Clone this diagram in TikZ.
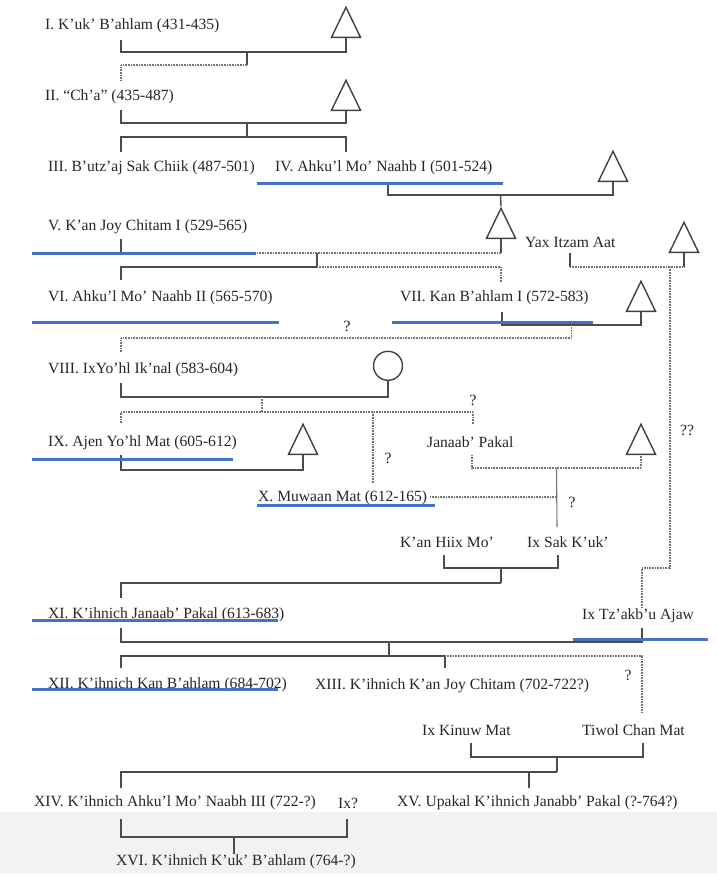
\documentclass[tikz,border=0pt]{standalone}
\usepackage{fontspec}
\setmainfont{Liberation Serif}
\usetikzlibrary{shapes.geometric,positioning}

\definecolor{hiblue}{RGB}{68,114,196}

\tikzset{
  person/.style={anchor=west,inner sep=0pt,text=black!85,
    font=\fontsize{15.6}{18}\selectfont},
  query/.style={inner sep=0pt,text=black!85,font=\fontsize{15.6}{18}\selectfont},
  male/.style={draw=black!75,line width=1.4pt,isosceles triangle,
    shape border rotate=90,isosceles triangle stretches,
    minimum width=29pt,minimum height=30pt,inner sep=0pt,anchor=south},
  female/.style={draw=black!75,line width=1.4pt,circle,minimum size=29pt,
    inner sep=0pt,anchor=south},
  kin/.style={draw=black!70,line width=1.4pt},
  maybe/.style={draw=black!55,line width=1.3pt,dash pattern=on 0.8pt off 0.8pt},
  hilite/.style={draw=hiblue,line width=3pt},
}

\begin{document}
\begin{tikzpicture}[x=1pt,y=-1pt]
\useasboundingbox (0,0) rectangle (717,881);
\fill[black!5] (0,812) rectangle (717,874);

% rulers and their kin
\node[person] (r1) at (45,26) {I. K'uk' B'ahlam (431-435)};
\node[person] (r2) at (45,97) {II. “Ch'a” (435-487)};
\node[person] (r3) at (48,168) {III. B'utz'aj Sak Chiik (487-501)};
\node[person] (r4) at (275,168) {IV. Ahku'l Mo' Naahb I (501-524)};
\node[person] (r5) at (48,227) {V. K'an Joy Chitam I (529-565)};
\node[person] (yax) at (525,242) {Yax Itzam Aat};
\node[person] (r6) at (48,298) {VI. Ahku'l Mo' Naahb II (565-570)};
\node[person] (r7) at (400,298) {VII. Kan B'ahlam I (572-583)};
\node[person] (r8) at (48,370) {VIII. IxYo'hl Ik'nal (583-604)};
\node[person] (r9) at (48,443) {IX. Ajen Yo'hl Mat (605-612)};
\node[person] (janaab) at (427,442) {Janaab' Pakal};
\node[person] (r10) at (258,498) {X. Muwaan Mat (612-165)};
\node[person] (kanhiix) at (400,542) {K'an Hiix Mo'};
\node[person] (ixsak) at (527,542) {Ix Sak K'uk'};
\node[person] (r11) at (48,615) {XI. K'ihnich Janaab' Pakal (613-683)};
\node[person] (ixtzak) at (582,616) {Ix Tz'akb'u Ajaw};
\node[person] (r12) at (48,685) {XII. K'ihnich Kan B'ahlam (684-702)};
\node[person] (r13) at (315,686) {XIII. K'ihnich K'an Joy Chitam (702-722?)};
\node[person] (kinuw) at (422,730) {Ix Kinuw Mat};
\node[person] (tiwol) at (582,730) {Tiwol Chan Mat};
\node[person] (r14) at (34,803) {XIV. K'ihnich Ahku'l Mo' Naabh III (722-?)};
\node[person] (ixq) at (338,803) {Ix?};
\node[person] (r15) at (397,803) {XV. Upakal K'ihnich Janabb' Pakal (?-764?)};
\node[person] (r16) at (116,862) {XVI. K'ihnich K'uk' B'ahlam (764-?)};

% unnamed men and women
\node[male] (m1) at (346,38) {};
\node[male] (m2) at (346,111) {};
\node[male] (m3) at (613,182) {};
\node[male] (m4) at (501,239) {};
\node[male] (m5) at (684,253) {};
\node[male] (m6) at (641,312) {};
\node[male] (m7) at (303,455) {};
\node[male] (m8) at (641,455) {};
\node[female] (f1) at (388,381) {};

% uncertain links
\node[query] (q1) at (347,326) {?};
\node[query] (q2) at (473,400) {?};
\node[query] (q3) at (388,458) {?};
\node[query] (q4) at (572,502) {?};
\node[query] (q5) at (687,430) {??};
\node[query] (q6) at (628,675) {?};

% stem ends
\coordinate (r1b) at (121,40);
\coordinate (r2t) at (121,80);
\coordinate (r2b) at (121,110);
\coordinate (r3t) at (121,152);
\coordinate (r4t) at (346,152);
\coordinate (r4b) at (388,182);
\coordinate (r5b) at (121,239);
\coordinate (r6t) at (121,280);
\coordinate (r7t) at (501,282);
\coordinate (r7b) at (502,312);
\coordinate (yaxb) at (570,253);
\coordinate (r8t) at (121,352);
\coordinate (r8b) at (121,383);
\coordinate (r9t) at (121,423);
\coordinate (r9b) at (121,455);
\coordinate (janaabt) at (473,425);
\coordinate (janaabb) at (472,455);
\coordinate (r10t) at (373,483);
\coordinate (r10e) at (430,497);
\coordinate (kanhiixb) at (444,555);
\coordinate (ixsakt) at (557,527);
\coordinate (ixsakb) at (558,555);
\coordinate (r11t) at (121,598);
\coordinate (r11b) at (121,628);
\coordinate (ixtzakt) at (642,608);
\coordinate (ixtzakb) at (642,628);
\coordinate (r12t) at (121,668);
\coordinate (r13t) at (445,668);
\coordinate (kinuwb) at (471,743);
\coordinate (tiwolt) at (642,713);
\coordinate (tiwolb) at (643,743);
\coordinate (r14t) at (121,788);
\coordinate (r15t) at (529,788);
\coordinate (r14b) at (121,819);
\coordinate (ixqb) at (347,819);
\coordinate (r16t) at (234,854);

% I -- II
\draw[kin] (r1b) -- ++(0,12) -| coordinate[pos=.28] (u1) (m1.south);
\draw[kin] (u1) -- ++(0,13) coordinate (d1);
\draw[maybe] (d1) -| (r2t);

% II -- III, IV
\draw[kin] (r2b) -- ++(0,13) -| coordinate[pos=.28] (u2) (m2.south);
\draw[kin] (u2) -- ++(0,14) coordinate (d2);
\draw[kin] (r3t) |- (d2) -| (r4t);

% IV -- V, VI, VII
\draw[kin] (r4b) -- ++(0,13) -| coordinate[pos=.25] (u3) (m3.south);
\draw[kin] (u3) -- (m4.apex);
\draw[kin] (m4.south) -- ++(0,14) coordinate (v4);
\draw[kin] (r5b) -- ++(0,14) coordinate (v5);
\draw[maybe] (v5) -- coordinate[pos=.516] (u4) (v4);
\draw[kin] (u4) -- ++(0,14) coordinate (d4);
\draw[kin] (r6t) |- (d4);
\draw[maybe] (d4) -| (r7t);

% Yax Itzam Aat -- Ix Tz'akb'u Ajaw
\draw[kin] (yaxb) -- ++(0,14) coordinate (v6);
\draw[kin] (m5.south) -- ++(0,14) coordinate (v7);
\draw[maybe] (v6) -- coordinate[pos=.877] (u5) (v7);
\draw[maybe] (u5) -- ++(0,301) -| (ixtzakt);

% VII -- VIII
\draw[kin] (r7b) -- ++(0,13) -| coordinate[pos=.25] (u6) (m6.south);
\draw[maybe] (u6) -- ++(0,13) -| (r8t);

% VIII -- IX, X, Janaab' Pakal
\draw[kin] (r8b) -- ++(0,14) -| coordinate[pos=.264] (u7) (f1.south);
\draw[maybe] (u7) -- ++(0,15) coordinate (d7);
\draw[maybe] (r9t) |- (d7) -| (janaabt);
\draw[maybe] (d7 -| r10t) -- (r10t);
\draw[kin] (r9b) -- ++(0,15) -| (m7.south);

% Janaab' Pakal -- Ix Sak K'uk'
\draw[maybe] (janaabb) -- ++(0,13) -| coordinate[pos=.25] (u8) (m8.south);
\draw[draw=black!55,line width=1.1pt] (u8) -- (ixsakt);
\draw[maybe] (r10e) -- (r10e -| u8);

% K'an Hiix Mo' -- XI
\draw[kin] (kanhiixb) -- ++(0,13) -| coordinate[pos=.25] (u9) (ixsakb);
\draw[kin] (u9) -- ++(0,15) coordinate (d9);
\draw[kin] (d9) -| (r11t);

% XI -- XII, XIII, Tiwol Chan Mat
\draw[kin] (r11b) -- ++(0,14) -| coordinate[pos=.257] (u10) (ixtzakb);
\draw[kin] (u10) -- ++(0,14) coordinate (d10);
\draw[kin] (r12t) |- (d10) -| (r13t);
\draw[maybe] (r13t |- d10) -| (tiwolt);

% Tiwol Chan Mat -- XIV, XV
\draw[kin] (kinuwb) -- ++(0,14) -| coordinate[pos=.25] (u11) (tiwolb);
\draw[kin] (u11) -- ++(0,15) coordinate (d11);
\draw[kin] (r14t) |- (d11);
\draw[kin] (r15t) -- (r15t |- d11);

% XIV -- XVI
\draw[kin] (r14b) -- ++(0,18) -| coordinate[pos=.25] (u12) (ixqb);
\draw[kin] (u12) -- (r16t);

% blue strokes
\draw[hilite] (257,183) -- (503,183);
\draw[hilite] (32,253) -- (256,253);
\draw[hilite] (32,322) -- (279,322);
\draw[hilite] (392,322) -- (593,322);
\draw[hilite] (32,459) -- (233,459);
\draw[hilite] (257,505) -- (435,505);
\draw[hilite] (32,620) -- (278,620);
\draw[hilite] (573,639) -- (708,639);
\draw[hilite] (32,689) -- (278,689);
\end{tikzpicture}
\end{document}
